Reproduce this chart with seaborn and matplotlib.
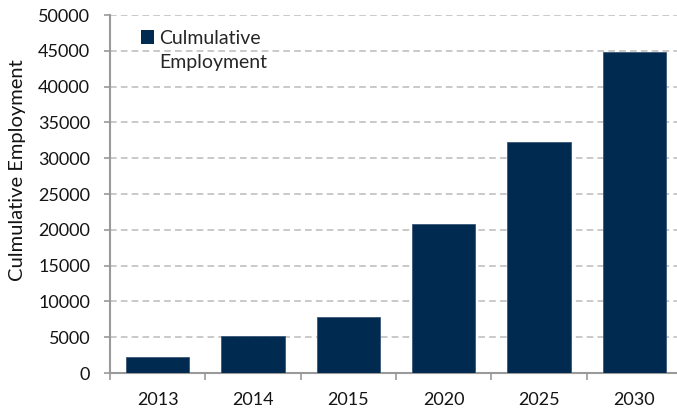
import matplotlib
matplotlib.use("Agg")
import matplotlib.pyplot as plt
from matplotlib.patches import Patch
import numpy as np
import pandas as pd
import seaborn as sns

years = ["2013", "2014", "2015", "2020", "2025", "2030"]
employment = [2200, 5100, 7850, 20850, 32300, 44800]
yticks = [0, 5000, 10000, 15000, 20000, 25000, 30000, 35000, 40000, 45000, 50000]

bar_color = "#012a50"
axis_gray = "#9a9a9a"
grid_gray = "#c0c0c0"
text_color = "#141414"

sns.set_theme(style="white")
plt.rcParams["font.family"] = ["Lato", "DejaVu Sans"]

df = pd.DataFrame({"Year": years, "Employment": employment})

fig = plt.figure(figsize=(6.77, 4.11), dpi=100)
ax = fig.add_axes([110 / 677, 38 / 411, 572 / 677, 358 / 411])

sns.barplot(data=df, x="Year", y="Employment", order=years, color=bar_color,
            width=0.665, saturation=1, ax=ax, zorder=3,
            edgecolor="#3b5877", linewidth=0.6)

ax.set_ylim(0, 50000)
ax.set_xlim(-0.5, len(years) - 0.5)
ax.set_yticks(yticks)
ax.set_yticklabels([str(v) for v in yticks], fontsize=13, color=text_color)
ax.set_xticks(range(len(years)))
ax.set_xticklabels(years, fontsize=13, color=text_color)

# category separators on the x axis
ax.set_xticks(np.arange(-0.5, len(years) + 0.5, 1), minor=True)
ax.tick_params(axis="x", which="major", length=0, pad=14)
ax.tick_params(axis="x", which="minor", length=5, width=1.2, color=axis_gray,
               direction="out", bottom=True)
ax.tick_params(axis="y", which="major", length=4.3, width=1.2, color=axis_gray,
               direction="out", left=True, pad=10)

ax.set_xlabel("")
ax.set_ylabel("Culmulative Employment", fontsize=14.5, color=text_color,
              va="center")
ax.yaxis.set_label_coords(-0.161, 0.567)

for side in ["top", "right"]:
    ax.spines[side].set_visible(False)
for side in ["left", "bottom"]:
    ax.spines[side].set_color(axis_gray)
    ax.spines[side].set_linewidth(1.5)

for v in yticks[1:]:
    ax.axhline(v, color=grid_gray, linewidth=1.2, linestyle=(0, (4, 2.5)), zorder=1)

handles = [Patch(facecolor=bar_color, edgecolor="none"),
           Patch(facecolor="none", edgecolor="none")]
ax.legend(handles, ["Culmulative", "Employment"], loc="upper left",
          bbox_to_anchor=(0.040, 0.98), frameon=False, fontsize=14,
          handlelength=0.7, handleheight=0.7, handletextpad=0.25,
          labelspacing=0.35, borderaxespad=0)

fig.savefig("out.png", dpi=100)
